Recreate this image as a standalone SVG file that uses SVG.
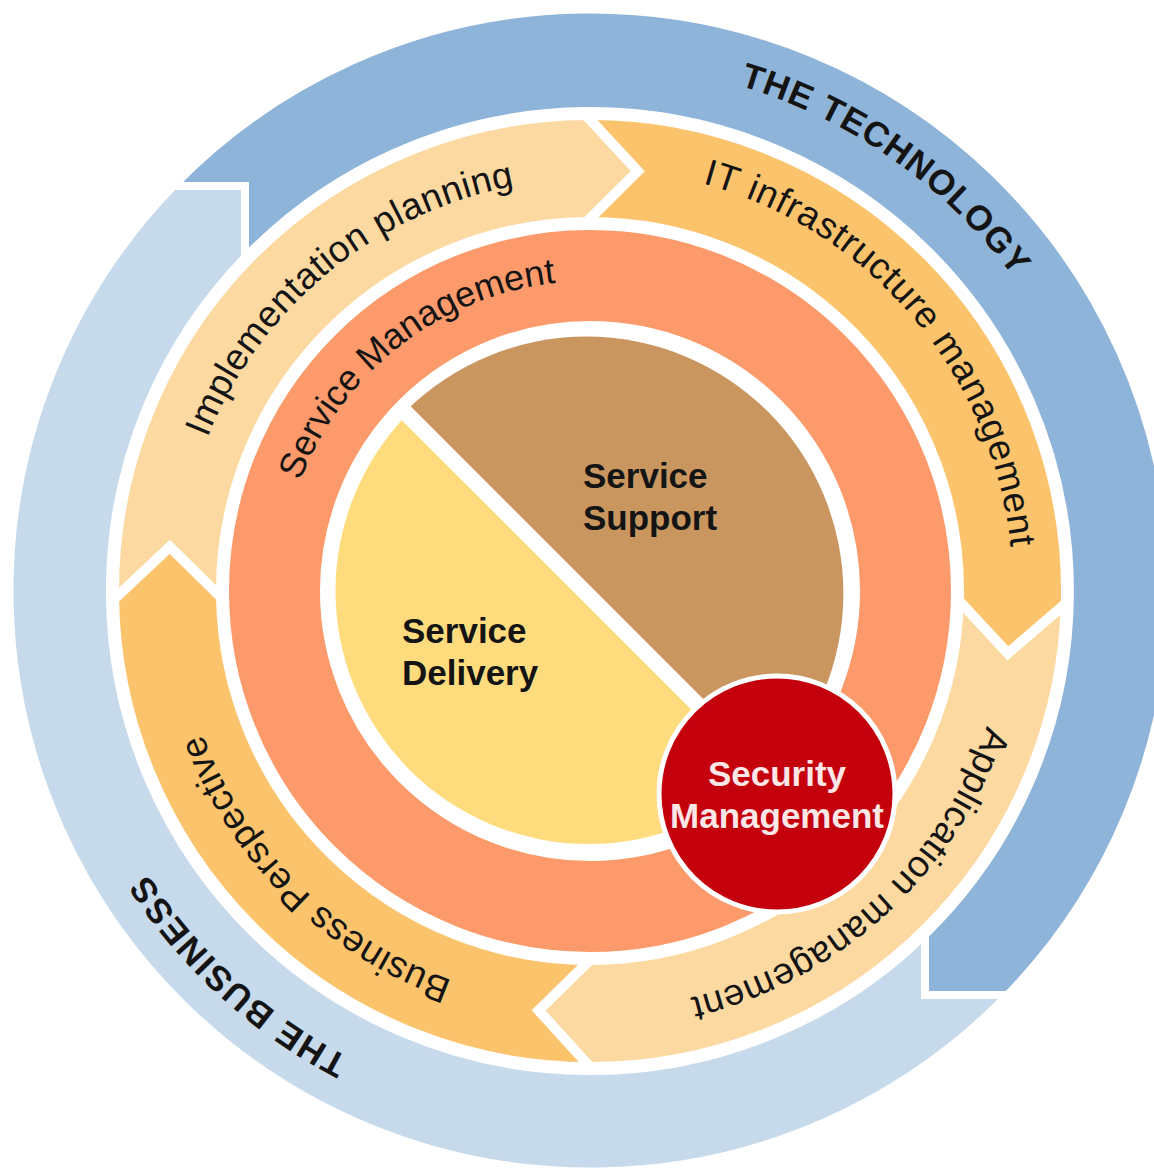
<svg xmlns="http://www.w3.org/2000/svg" width="1154" height="1174" viewBox="0 0 1154 1174">
<defs>
<style>
.blue{stroke:#fff;stroke-width:8;stroke-linejoin:miter}
.seg{stroke:#fff;stroke-width:10;stroke-linejoin:miter}
.lbl{font-family:"Liberation Sans",Arial,Helvetica,sans-serif;fill:#141414}
.ring{font-size:37px}
.big{font-size:35px;font-weight:bold}
.core{font-size:35px;font-weight:bold}
.sec{font-size:35px;font-weight:bold;fill:#fde6e6;text-anchor:middle}
</style>
<path id="pTech" d="M217.35,218.35 A527,527 0 0 1 1067.62,813.72"/>
<path id="pBus" d="M909.90,1007.28 A525,525 0 0 1 147.0,309.28"/>
<path id="pImpl" d="M230.91,792.99 A412,412 0 0 1 858.48,278.49"/>
<path id="pInfra" d="M377.22,225.41 A423,423 0 0 1 914.98,861.77"/>
<path id="pApp" d="M943.38,365.87 A419,419 0 0 1 334.93,923.41"/>
<path id="pBP" d="M828.91,927.88 A413,413 0 0 1 250.25,356.18"/>
<path id="pSM" d="M315.66,735.34 A310,310 0 0 1 798.43,361.53"/>
</defs>
<rect width="1154" height="1174" fill="#fff"/>

<g id="the-technology">
<path class="blue" fill="#8fb4d9" d="M173.42,186 A581,581 0 0 1 1007.55,995 L925,995 L925,934.77 A480,480 0 1 0 245,257.27 L245,186 Z"/>
<text class="lbl big" letter-spacing="1"><textPath href="#pTech" startOffset="50%" text-anchor="middle">THE TECHNOLOGY</textPath></text>
</g>
<g id="the-business">
<path class="blue" fill="#c6daec" d="M1007.55,995 A581,581 0 1 1 173.42,186 L245,186 L245,257.27 A480,480 0 0 0 925,934.77 L925,995 Z"/>
<text class="lbl big" letter-spacing="1.5"><textPath href="#pBus" startOffset="50%" text-anchor="middle">THE BUSINESS</textPath></text>
</g>

<g id="implementation-planning">
<path class="seg" fill="#fdd9a2" d="M114.07,599.31 A476,476 0 0 1 585.85,115.02 L637.83,171.22 L586.78,222.01 A369,369 0 0 0 221.06,597.44 L169.82,546.84 Z"/>
<text class="lbl ring" letter-spacing="0.5"><textPath href="#pImpl" startOffset="50%" text-anchor="middle">Implementation planning</textPath></text>
</g>
<g id="it-infrastructure-management">
<path class="seg" fill="#fbc36c" d="M585.85,115.02 A476,476 0 0 1 1065.84,603.46 L1007.86,653.45 L958.87,600.66 A369,369 0 0 0 586.78,222.01 L637.83,171.22 Z"/>
<text class="lbl ring" letter-spacing="0.8"><textPath href="#pInfra" startOffset="50%" text-anchor="middle">IT infrastructure management</textPath></text>
</g>
<g id="application-management">
<path class="seg" fill="#fdd9a2" d="M1065.84,603.46 A476,476 0 0 1 590,1067 L538.51,1010.35 L590,960 A369,369 0 0 0 958.87,600.66 L1007.86,653.45 Z"/>
<text class="lbl ring" letter-spacing="0.6"><textPath href="#pApp" startOffset="50%" text-anchor="middle">Application management</textPath></text>
</g>
<g id="business-perspective">
<path class="seg" fill="#fbc36c" d="M590,1067 A476,476 0 0 1 114.07,599.31 L169.82,546.84 L221.06,597.44 A369,369 0 0 0 590,960 L538.51,1010.35 Z"/>
<text class="lbl ring" letter-spacing="0.44"><textPath href="#pBP" startOffset="50%" text-anchor="middle">Business Perspective</textPath></text>
</g>

<g id="service-management">
<circle cx="590" cy="591" r="315.5" fill="none" stroke="#fc9a6b" stroke-width="91"/>
<text class="lbl" font-size="36"><textPath href="#pSM" startOffset="50%" text-anchor="middle">Service Management</textPath></text>
</g>

<g id="service-delivery">
<circle cx="588.5" cy="591" r="253" fill="#fedc7e"/>
<text class="lbl core" x="402" y="643">Service</text>
<text class="lbl core" x="402" y="685">Delivery</text>
</g>
<g id="service-support">
<path fill="#c99660" d="M404.85,411.85 A253,253 0 1 1 768.15,775.15 Z"/>
<line x1="400" y1="407" x2="780" y2="787" stroke="#fff" stroke-width="16"/>
<text class="lbl core" x="583" y="488">Service</text>
<text class="lbl core" x="583" y="530">Support</text>
</g>

<g id="security-management">
<circle cx="777" cy="794" r="118" fill="#c4000c" stroke="#fff" stroke-width="5"/>
<text class="lbl sec" x="777" y="786">Security</text>
<text class="lbl sec" x="777" y="828">Management</text>
</g>

<g id="connectors"/>
</svg>
